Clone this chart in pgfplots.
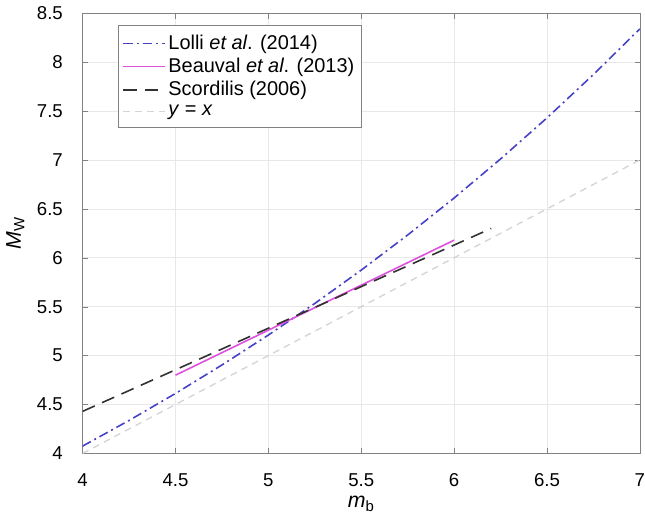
\documentclass[border=0pt]{standalone}
\usepackage{fontspec}
\setmainfont{Liberation Sans}
\usepackage{pgfplots}
\pgfplotsset{compat=1.18}
\definecolor{lolliblue}{RGB}{70,66,200}
\definecolor{beauvalmag}{RGB}{222,80,222}
\definecolor{scorgray}{RGB}{50,50,50}
\definecolor{yxgray}{RGB}{212,212,212}
\definecolor{axgray}{RGB}{130,130,130}

\begin{document}
\fontsize{14}{16}\selectfont
\begin{tikzpicture}
\begin{axis}[
  scale only axis,
  width=419pt, height=331pt,
  xmin=4, xmax=7, ymin=4, ymax=8.5,
  xtick={4,4.5,...,7}, ytick={4,4.5,...,8.5},
  /pgf/number format/assume math mode=true,
  tick label style={font=\fontsize{14}{16}\selectfont},
  xticklabel style={yshift=-10pt, inner xsep=0pt},
  yticklabel style={xshift=-10pt, inner ysep=5pt},
  tick align=inside, tick pos=both,
  major tick length=4pt,
  axis line style={axgray},
  tick style={axgray},
  grid=major, grid style={gray!18, line width=0.5pt},
  xlabel={\fontsize{16}{18}\selectfont\textit{m}\textsubscript{b}},
  ylabel={\fontsize{16}{18}\selectfont\textit{M}\textsubscript{W}},
  xlabel style={yshift=2pt},
  ylabel style={yshift=0pt},
  legend cell align=left,
  legend style={at={(rel axis cs:0.064,0.973)}, anchor=north west,
    draw=axgray, fill=white, font=\fontsize{15}{17}\selectfont,
    row sep=0.6pt, inner xsep=3pt, inner ysep=5pt,
    /tikz/every even column/.append style={column sep=1pt}},
  legend image code/.code={\draw[mark repeat=2,mark phase=2,#1]
    plot coordinates {(0cm,0cm) (0.55cm,0cm) (1.1cm,0cm)};},
]
\addplot[lolliblue, line width=1.2pt, dash pattern=on 7pt off 3pt on 1.5pt off 3pt] coordinates {
  (4.00,4.075)(4.25,4.337)(4.50,4.613)(4.75,4.904)(5.00,5.210)
  (5.25,5.533)(5.50,5.874)(5.75,6.233)(6.00,6.611)(6.25,7.010)
  (6.50,7.430)(6.75,7.873)(7.00,8.340)
};
\addlegendentry{Lolli \textit{et al}. (2014)}
\addplot[beauvalmag, line width=1.2pt] coordinates {
  (4.50,4.80)(4.75,5.03)(5.00,5.26)(5.25,5.49)(5.50,5.72)(5.75,5.95)(6.00,6.18)
};
\addlegendentry{Beauval \textit{et al}. (2013)}
\addplot[scorgray, line width=1.2pt, dash pattern=on 10pt off 6pt] coordinates {
  (4.00,4.43)(4.50,4.855)(5.00,5.28)(5.50,5.705)(6.00,6.13)(6.20,6.30)
};
\addlegendentry{Scordilis (2006)}
\addplot[yxgray, line width=1.0pt, dash pattern=on 5pt off 4pt] coordinates {
  (4,4)(7,7)
};
\addlegendentry{\textit{y} = \textit{x}}
\end{axis}
\end{tikzpicture}
\end{document}
